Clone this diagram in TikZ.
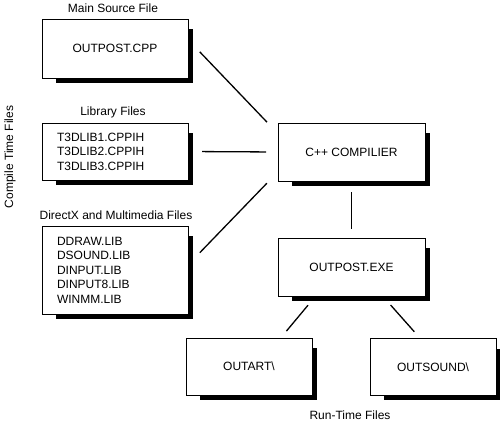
\documentclass[tikz,border=0pt]{standalone}
\usepackage{fontspec}
\setmainfont{Liberation Sans}

\begin{document}
\begin{tikzpicture}[x=1pt,y=-1pt,
    every node/.style={font=\fontsize{12}{14.5}\selectfont},
    filebox/.style={draw, fill=white, line width=0.9pt, inner sep=0pt, outer sep=0pt,
      minimum width=146pt, minimum height=58pt},
    listbox/.style={filebox, align=left, text width=116pt, inner xsep=15pt},
    smallbox/.style={filebox, minimum width=126pt, minimum height=57pt},
    shadowline/.style={line width=4.5pt, line join=miter},
    link/.style={line width=1.3pt}]
    \useasboundingbox (0,0) rectangle (500,426);

    % Shadows along right and bottom edges
    \draw[shadowline] (56,80.25) -- (190.25,80.25) -- (190.25,29);
    \draw[shadowline] (56,182.25) -- (190.25,182.25) -- (190.25,133);
    \draw[shadowline] (56,316.25) -- (190.25,316.25) -- (190.25,236);
    \draw[shadowline] (292,183.25) -- (427.25,183.25) -- (427.25,133);
    \draw[shadowline] (292,298.25) -- (427.25,298.25) -- (427.25,248);
    \draw[shadowline] (200,397.25) -- (314.25,397.25) -- (314.25,348);
    \draw[shadowline] (384,397.75) -- (498.25,397.75) -- (498.25,348.5);

    % Compile time files
    \node[rotate=90] (ctf) at (10,157) {Compile Time Files};
    \node (mainlbl) at (113,8) {Main Source File};
    \node[filebox, minimum height=59pt] (main) at (115,48.5) {OUTPOST.CPP};
    \node (liblbl) at (113,112) {Library Files};
    \node[listbox, minimum height=57pt] (lib) at (115,151.5)
        {T3DLIB1.CPPIH\\T3DLIB2.CPPIH\\T3DLIB3.CPPIH};
    \node (dxlbl) at (116,215) {DirectX and Multimedia Files};
    \node[listbox, minimum height=88pt] (dx) at (115,270)
        {DDRAW.LIB\\DSOUND.LIB\\DINPUT.LIB\\DINPUT8.LIB\\WINMM.LIB};

    % Compiler and run time files
    \node[filebox, minimum width=147pt] (comp) at (351.5,152) {C++ COMPILIER};
    \node[filebox, minimum width=147pt] (exe) at (351.5,267) {OUTPOST.EXE};
    \node[smallbox] (art) at (249,366.5) {OUTART\textbackslash};
    \node[smallbox] (snd) at (433,367) {OUTSOUND\textbackslash};
    \node (rtf) at (350,415) {Run-Time Files};

    % Links
    \draw[link, shorten <=17pt, shorten >=16pt] (main.7) -- (comp.166);
    \draw[link, shorten <=14pt, shorten >=12pt] (lib.east) -- (comp.west);
    \draw[link, shorten <=17pt, shorten >=16pt] (dx.4.5) -- (comp.195.8);
    \draw[link, shorten <=11pt, shorten >=9pt] (comp.south) -- (exe.north);
    \draw[link, shorten <=12pt, shorten >=9pt] (exe.219) -- (art.42.5);
    \draw[link, shorten <=12pt, shorten >=9pt] (exe.317.4) -- (snd.114.2);
\end{tikzpicture}
\end{document}
